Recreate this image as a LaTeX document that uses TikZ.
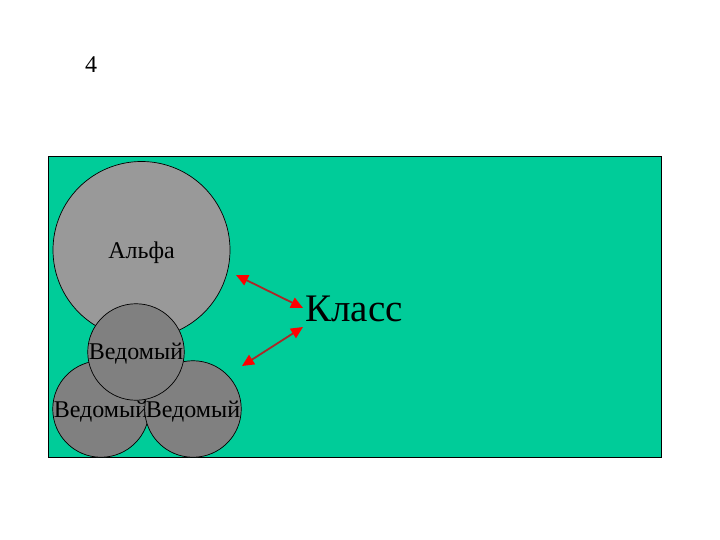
\documentclass[tikz,border=0pt]{standalone}
\usepackage{fontspec}
\setmainfont{Liberation Serif}
\usetikzlibrary{arrows.meta}
\definecolor{bggreen}{RGB}{0,204,153}
\definecolor{lightgr}{RGB}{153,153,153}
\definecolor{darkgr}{RGB}{128,128,128}
\definecolor{arrline}{RGB}{170,40,40}
\newcommand{\lowtext}[2]{\raisebox{-#1}[\height][\depth]{#2}}
\tikzset{
  ball/.style={circle,draw=black,line width=0.7pt,inner sep=0pt,font=\fontsize{24}{28}\selectfont},
  link/.style={arrline,line width=1.8pt,{Triangle[fill=red,color=red,length=12pt,width=11pt]}-{Triangle[fill=red,color=red,length=12pt,width=11pt]}}
}
\begin{document}
\begin{tikzpicture}[x=1pt,y=-1pt]
\useasboundingbox (0,0) rectangle (720,540);
\node[draw=black,fill=bggreen,line width=0.7pt,minimum width=613pt,minimum height=301pt,inner sep=0pt] (panel) at (354.5,306.5) {};
\node[font=\fontsize{24}{28}\selectfont] (num) at (91,65) {4};
\node[ball,fill=lightgr,minimum size=177pt] (alpha) at (141.5,250) {\lowtext{3pt}{Альфа}};
\node[ball,fill=darkgr,minimum size=95pt] (vl) at (101,409) {\lowtext{3pt}{Ведомый}};
\node[ball,fill=darkgr,minimum size=95pt] (vr) at (193,409) {\lowtext{3pt}{Ведомый}};
\node[ball,fill=darkgr,minimum size=96pt] (vm) at (136,352) {\lowtext{2pt}{Ведомый}};
\node[font=\fontsize{39}{44}\selectfont,inner sep=0pt] (klass) at (354,309) {Класс};
\coordinate (a1) at (236,275);
\coordinate (a2) at (303,308);
\coordinate (b1) at (303,327);
\coordinate (b2) at (242,366);
\draw[link] (a1) -- (a2);
\draw[link] (b1) -- (b2);
\end{tikzpicture}
\end{document}
